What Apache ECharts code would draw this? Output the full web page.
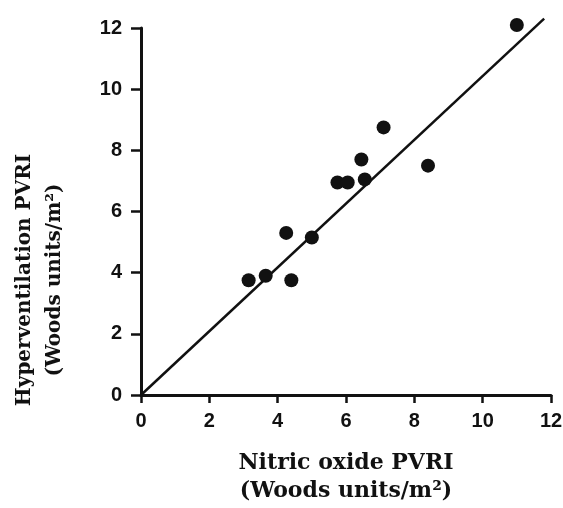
<!DOCTYPE html>
<html>
<head>
<meta charset="utf-8">
<script src="https://cdn.jsdelivr.net/npm/echarts@6/dist/echarts.min.js"></script>
<style>
  html, body { margin: 0; padding: 0; background: #fff; }
  #chart { width: 563px; height: 508px; }
</style>
</head>
<body>
<div id="chart"></div>
<script>
// Paired PVRI measurements (Woods units/m²)
const nitricOxide = [3.15, 3.65, 4.25, 4.4, 5.0, 5.75, 6.05, 6.45, 6.55, 7.1, 8.4, 11.0];
const hyperventilation = [3.75, 3.9, 5.3, 3.75, 5.15, 6.95, 6.95, 7.7, 7.05, 8.75, 7.5, 12.1];

// Fitted line through the origin
const fitSlope = 1.043;
const fitRange = [0, 11.8];

const xTicks = [0, 2, 4, 6, 8, 10, 12];
const yTicks = [0, 2, 4, 6, 8, 10, 12];

const ink = '#111';
const tickFont = { fontFamily: '"Liberation Sans", Arial, sans-serif', fontWeight: 'bold', fontSize: 20, color: ink };
const titleFamily = '"DejaVu Serif", "Liberation Serif", serif';

const points = nitricOxide.map((x, i) => [x, hyperventilation[i]]);
const fitLine = fitRange.map(x => [x, fitSlope * x]);

const chart = echarts.init(document.getElementById('chart'), null, { renderer: 'canvas' });
chart.setOption({
  backgroundColor: '#fff',
  animation: false,
  grid: { left: 141, right: 12, top: 28, bottom: 113, outerBoundsMode: 'none', containLabel: false },
  xAxis: {
    type: 'value',
    min: xTicks[0], max: xTicks[xTicks.length - 1], interval: 2,
    name: 'Nitric oxide PVRI\n(Woods units/m²)',
    nameLocation: 'middle',
    nameGap: 54,
    nameTextStyle: {
      fontFamily: titleFamily, fontWeight: 'bold', fontSize: 22, color: ink,
      lineHeight: 28, verticalAlign: 'top'
    },
    axisLine: { show: true, onZero: false, lineStyle: { color: ink, width: 3 } },
    axisTick: { show: true, length: 8, lineStyle: { color: ink, width: 2.5 } },
    axisLabel: Object.assign({ margin: 16 }, tickFont),
    splitLine: { show: false }
  },
  yAxis: {
    type: 'value',
    min: yTicks[0], max: yTicks[yTicks.length - 1], interval: 2,
    axisLine: { show: true, onZero: false, lineStyle: { color: ink, width: 3 } },
    axisTick: { show: true, length: 10, lineStyle: { color: ink, width: 2.5 } },
    axisLabel: Object.assign({ margin: 19 }, tickFont),
    splitLine: { show: false }
  },
  graphic: [{
    type: 'text',
    x: 40, y: 280,
    rotation: Math.PI / 2,
    style: {
      text: 'Hyperventilation PVRI\n(Woods units/m²)',
      align: 'center',
      verticalAlign: 'middle',
      lineHeight: 30,
      fill: ink,
      font: 'bold 20px "DejaVu Serif", "Liberation Serif", serif'
    }
  }],
  series: [
    {
      type: 'line',
      data: fitLine,
      symbol: 'none',
      clip: false,
      lineStyle: { color: ink, width: 2.5 },
      silent: true,
      z: 2
    },
    {
      type: 'scatter',
      data: points,
      symbol: 'circle',
      symbolSize: 14,
      clip: false,
      itemStyle: { color: ink, opacity: 1 },
      z: 3
    }
  ]
});
</script>
</body>
</html>
